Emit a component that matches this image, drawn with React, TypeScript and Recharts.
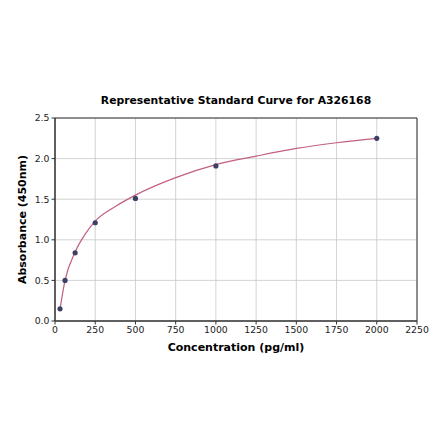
import React from 'react';
import { ComposedChart, Line, Scatter, XAxis, YAxis, CartesianGrid, ReferenceArea } from 'recharts';

// measured standards
const concentrations = [31.25, 62.5, 125, 250, 500, 1000, 2000];
const absorbance = [0.15, 0.5, 0.84, 1.21, 1.51, 1.91, 2.25];

// fitted curve
const curveX = [31.25, 62.5, 125, 187.5, 250, 375, 500, 750, 1000, 1250, 1500, 1750, 2000];
const curveY = [0.15, 0.5, 0.85, 1.07, 1.23, 1.41, 1.55, 1.765, 1.925, 2.03, 2.125, 2.195, 2.25];

const xTicks = [0, 250, 500, 750, 1000, 1250, 1500, 1750, 2000, 2250];
const yTicks = [0, 0.5, 1.0, 1.5, 2.0, 2.5];

const FONT = '"DejaVu Sans", sans-serif';

const points = concentrations.map((c, i) => ({ x: c, y: absorbance[i] }));
const curve = curveX.map((c, i) => ({ x: c, y: curveY[i] }));

export default function App() {
  return (
    <div style={{ position: 'absolute', left: 0, top: 0, width: 440, height: 441, background: '#fff', fontFamily: FONT }}>
      <ComposedChart
        width={440}
        height={441}
        margin={{ top: 118, right: 23, bottom: 90, left: 15 }}
      >
        <text x={236} y={104} textAnchor="middle" fontFamily={FONT} fontSize={10.8} fontWeight="bold" fill="#000">
          Representative Standard Curve for A326168
        </text>
        <CartesianGrid stroke="#c8c8c8" strokeWidth={0.8} />
        <XAxis
          dataKey="x"
          type="number"
          domain={[0, 2250]}
          ticks={xTicks}
          height={30}
          tickSize={3.5}
          tickLine={{ stroke: '#333' }}
          axisLine={{ stroke: '#333' }}
          tick={{ fontSize: 9.3, fill: '#222', fontFamily: FONT }}
          interval={0}
          label={{ value: 'Concentration (pg/ml)', position: 'insideBottom', offset: 0, style: { fontSize: 11, fontWeight: 'bold', fill: '#000', fontFamily: FONT } }}
        />
        <YAxis
          dataKey="y"
          type="number"
          domain={[0, 2.5]}
          ticks={yTicks}
          width={40}
          tickSize={3.5}
          tickLine={{ stroke: '#333' }}
          axisLine={{ stroke: '#333' }}
          tickFormatter={(v: number) => v.toFixed(1)}
          tick={{ fontSize: 9.3, fill: '#222', fontFamily: FONT }}
          interval={0}
          label={{ value: 'Absorbance (450nm)', angle: -90, position: 'insideLeft', offset: 7, style: { textAnchor: 'middle', fontSize: 11, fontWeight: 'bold', fill: '#000', fontFamily: FONT } }}
        />
        <ReferenceArea x1={0} x2={2250} y1={0} y2={2.5} fill="none" stroke="#333" strokeWidth={1} />
        <Line
          data={curve}
          dataKey="y"
          type="monotone"
          stroke="#c0607f"
          strokeWidth={1.2}
          dot={false}
          activeDot={false}
          isAnimationActive={false}
        />
        <Scatter
          data={points}
          dataKey="y"
          fill="#3d4066"
          shape={(p: any) => <circle cx={p.cx} cy={p.cy} r={2.6} fill="#3d4066" />}
          isAnimationActive={false}
        />
      </ComposedChart>
    </div>
  );
}
